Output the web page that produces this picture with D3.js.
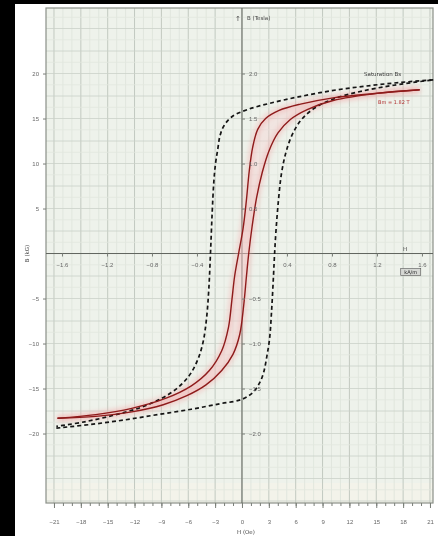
<!DOCTYPE html>
<html>
<head>
<meta charset="utf-8">
<script src="https://cdn.jsdelivr.net/npm/d3@7"></script>
<style>
  html, body { margin: 0; padding: 0; background: #fff; }
  svg { display: block; font-family: "DejaVu Sans", "Liberation Sans", sans-serif; }
  svg text { opacity: 0.99; }
</style>
</head>
<body>
<svg id="chart" width="438" height="536"></svg>
<script>
// B–H hysteresis loops: field strength H in kA/m, flux density B in tesla.

// Major (saturation) loop, dashed
const outerDescH = [1.70, 1.40, 1.10, 0.80, 0.50, 0.25, 0.05, -0.09, -0.16, -0.195, -0.215, -0.235, -0.25, -0.265, -0.28, -0.295, -0.315, -0.345, -0.39, -0.46, -0.56, -0.70, -0.90, -1.15, -1.40, -1.65];
const outerDescB = [1.93, 1.90, 1.86, 1.81, 1.74, 1.67, 1.60, 1.52, 1.42, 1.31, 1.16, 1.00, 0.80, 0.45, 0.00, -0.40, -0.72, -0.98, -1.17, -1.34, -1.48, -1.60, -1.71, -1.80, -1.87, -1.92];
const outerAscH  = [-1.65, -1.35, -1.05, -0.75, -0.45, -0.20, 0.00, 0.10, 0.16, 0.195, 0.22, 0.245, 0.265, 0.28, 0.29, 0.305, 0.325, 0.35, 0.39, 0.45, 0.53, 0.65, 0.82, 1.05, 1.35, 1.70];
const outerAscB  = [-1.94, -1.90, -1.85, -1.79, -1.73, -1.67, -1.62, -1.54, -1.43, -1.31, -1.15, -0.95, -0.60, -0.25, 0.00, 0.30, 0.60, 0.88, 1.12, 1.33, 1.49, 1.62, 1.72, 1.80, 1.87, 1.93];

// Minor loop, solid red
const innerDescH = [1.58, 1.20, 0.81, 0.52, 0.33, 0.21, 0.14, 0.095, 0.065, 0.04, 0.01, -0.03, -0.065, -0.09, -0.12, -0.18, -0.29, -0.45, -0.68, -0.98, -1.30, -1.64];
const innerDescB = [1.82, 1.78, 1.73, 1.66, 1.59, 1.50, 1.38, 1.18, 0.92, 0.60, 0.28, 0.00, -0.25, -0.52, -0.82, -1.08, -1.30, -1.47, -1.61, -1.72, -1.79, -1.83];
const innerAscH  = [-1.64, -1.30, -0.98, -0.70, -0.49, -0.32, -0.18, -0.08, -0.02, 0.015, 0.04, 0.06, 0.09, 0.13, 0.18, 0.24, 0.32, 0.43, 0.58, 0.81, 1.20, 1.58];
const innerAscB  = [-1.83, -1.81, -1.76, -1.68, -1.58, -1.46, -1.30, -1.12, -0.90, -0.58, -0.25, 0.00, 0.30, 0.62, 0.90, 1.14, 1.34, 1.49, 1.60, 1.70, 1.78, 1.82];

// Tick values
const hTicks  = [-1.6, -1.2, -0.8, -0.4, 0.4, 0.8, 1.2, 1.6];          // kA/m, on the H axis
const bTicks  = [-2.0, -1.5, -1.0, -0.5, 0.5, 1.0, 1.5, 2.0];          // T, on the B axis
const oeTicks = [-21, -18, -15, -12, -9, -6, -3, 0, 3, 6, 9, 12, 15, 18, 21]; // Oe, bottom
const kgTicks = [-20, -15, -10, -5, 5, 10, 15, 20];                    // kG, left
const bmLabel = "Bm = 1.82 T";

const OE_PER_KAM = 4 * Math.PI;   // 1 kA/m = 12.566 Oe
const KG_PER_T = 10;

const svg = d3.select("#chart");
const W = 438, H = 536;
const plot = { left: 46, right: 433, top: 8, bottom: 503 };

// Sheet and dark scan edges
svg.append("rect").attr("width", W).attr("height", H).attr("fill", "#fff");
svg.append("rect").attr("x", 0).attr("y", 0).attr("width", 15).attr("height", H).attr("fill", "#000");
svg.append("rect").attr("x", 0).attr("y", 0).attr("width", W).attr("height", 4).attr("fill", "#000");

const x = d3.scaleLinear().domain([-1.742, 1.698]).range([plot.left, plot.right]);
const y = d3.scaleLinear().domain([-2.772, 2.728]).range([plot.bottom, plot.top]);
const xOe = d3.scaleLinear().domain(x.domain().map(v => v * OE_PER_KAM)).range(x.range());
const yKg = d3.scaleLinear().domain(y.domain().map(v => v * KG_PER_T)).range(y.range());

// Plot background
svg.append("rect")
  .attr("x", plot.left).attr("y", plot.top)
  .attr("width", plot.right - plot.left).attr("height", plot.bottom - plot.top)
  .attr("fill", "#eef2eb");
svg.append("rect")
  .attr("x", plot.left).attr("y", y(-2.55))
  .attr("width", plot.right - plot.left).attr("height", plot.bottom - y(-2.55))
  .attr("fill", "#f3f3ea");

// Grid
const grid = svg.append("g");
const oeMinor = d3.range(Math.ceil(xOe.domain()[0]), Math.floor(xOe.domain()[1]) + 1);
grid.selectAll("line.vmin").data(oeMinor).join("line")
  .attr("x1", d => xOe(d)).attr("x2", d => xOe(d))
  .attr("y1", plot.top).attr("y2", plot.bottom)
  .attr("stroke", d => d % 3 === 0 ? "#c2c9c0" : "#dde3da")
  .attr("stroke-width", d => d % 3 === 0 ? 1 : 0.8);
const bMinor = d3.range(-22, 22).map(k => k * 0.125);
grid.selectAll("line.hmin").data(bMinor).join("line")
  .attr("x1", plot.left).attr("x2", plot.right)
  .attr("y1", d => y(d)).attr("y2", d => y(d))
  .attr("stroke", d => Math.abs(Math.round(d * 8)) % 2 === 0 ? "#cad1c8" : "#e2e7df")
  .attr("stroke-width", 0.8);

// Plot border
svg.append("rect")
  .attr("x", plot.left).attr("y", plot.top)
  .attr("width", plot.right - plot.left).attr("height", plot.bottom - plot.top)
  .attr("fill", "none").attr("stroke", "#8a8f88").attr("stroke-width", 1.2);

// Central axes
svg.append("line").attr("x1", x(0)).attr("x2", x(0)).attr("y1", plot.top).attr("y2", plot.bottom)
  .attr("stroke", "#60645e").attr("stroke-width", 1);
svg.append("line").attr("x1", plot.left).attr("x2", plot.right).attr("y1", y(0)).attr("y2", y(0))
  .attr("stroke", "#60645e").attr("stroke-width", 1);

const line = d3.line()
  .x(d => x(d[0])).y(d => y(d[1]))
  .curve(d3.curveCatmullRom.alpha(0.5));

const outerDesc = d3.zip(outerDescH, outerDescB);
const outerAsc = d3.zip(outerAscH, outerAscB);
const innerDesc = d3.zip(innerDescH, innerDescB);
const innerAsc = d3.zip(innerAscH, innerAscB);

// Soft pink tint around the minor loop
const defs = svg.append("defs");
defs.append("filter").attr("id", "soft").attr("x", "-10%").attr("y", "-10%").attr("width", "120%").attr("height", "120%")
  .append("feGaussianBlur").attr("stdDeviation", 2.5);
svg.append("path")
  .attr("d", line(innerDesc.concat(innerAsc)) + "Z")
  .attr("fill", "#f6d2d2").attr("fill-opacity", 0.4).attr("stroke", "none");
const halo = svg.append("g").attr("filter", "url(#soft)");
[innerDesc, innerAsc].forEach(seg => {
  halo.append("path").attr("d", line(seg))
    .attr("fill", "none").attr("stroke", "#f2a9a9").attr("stroke-width", 6).attr("stroke-opacity", 0.45);
});

// Major loop
[outerDesc, outerAsc].forEach(seg => {
  svg.append("path").attr("d", line(seg))
    .attr("fill", "none").attr("stroke", "#151515").attr("stroke-width", 1.7)
    .attr("stroke-dasharray", "4,3");
});

// Minor loop
[innerDesc, innerAsc].forEach(seg => {
  svg.append("path").attr("d", line(seg))
    .attr("fill", "none").attr("stroke", "#8e1b1b").attr("stroke-width", 1.4);
});

// Axis styling helper
function styleAxis(g) {
  g.select(".domain").remove();
  g.selectAll(".tick line").attr("stroke", "#7a7e78");
  g.selectAll(".tick text").attr("fill", "#666").attr("font-size", 6);
}

// Bottom axis in oersted
const oeMinorAxis = svg.append("g").attr("transform", `translate(0,${plot.bottom})`)
  .call(d3.axisBottom(xOe).tickValues(oeMinor).tickSize(3).tickFormat(""));
styleAxis(oeMinorAxis);
const oeAxis = svg.append("g").attr("transform", `translate(0,${plot.bottom})`)
  .call(d3.axisBottom(xOe).tickValues(oeTicks).tickSize(5).tickPadding(12).tickFormat(d3.format("d")));
styleAxis(oeAxis);

// Left axis in kilogauss
const kgAxis = svg.append("g").attr("transform", `translate(${plot.left},0)`)
  .call(d3.axisLeft(yKg).tickValues(kgTicks).tickSize(3).tickPadding(4).tickFormat(d3.format("d")));
styleAxis(kgAxis);

// Inner axes in SI units
const hAxis = svg.append("g").attr("transform", `translate(0,${y(0)})`)
  .call(d3.axisBottom(x).tickValues(hTicks).tickSize(3).tickPadding(6).tickFormat(d3.format(".1f")));
styleAxis(hAxis);
const bAxis = svg.append("g").attr("transform", `translate(${x(0)},0)`)
  .call(d3.axisRight(y).tickValues(bTicks).tickSize(3).tickPadding(4).tickFormat(d3.format(".1f")));
styleAxis(bAxis);

// Axis titles
svg.append("text").attr("x", x(0) - 4).attr("y", 21).attr("text-anchor", "middle")
  .attr("font-size", 7).attr("fill", "#444").text("↑");
svg.append("text").attr("x", x(0) + 5).attr("y", 20)
  .attr("font-size", 5.5).attr("fill", "#444").text("B (Tesla)");
svg.append("text").attr("x", x(0) + 4).attr("y", 534).attr("text-anchor", "middle")
  .attr("font-size", 5.5).attr("fill", "#444").text("H (Oe)");
svg.append("text").attr("transform", `translate(29,${y(0)}) rotate(-90)`).attr("text-anchor", "middle")
  .attr("font-size", 5.5).attr("fill", "#444").text("B (kG)");
svg.append("text").attr("x", x(1.45)).attr("y", y(0) - 3).attr("text-anchor", "middle")
  .attr("font-size", 5.5).attr("fill", "#444").text("H");
const unitBox = svg.append("g").attr("transform", `translate(${x(1.5)},${y(0) + 19})`);
unitBox.append("rect").attr("x", -10).attr("y", -4).attr("width", 20).attr("height", 7)
  .attr("fill", "#d6d8d4").attr("stroke", "#555").attr("stroke-width", 0.6);
unitBox.append("text").attr("y", 1.8).attr("text-anchor", "middle")
  .attr("font-size", 5).attr("fill", "#222").text("kA/m");

// Curve annotations
svg.append("text").attr("x", x(1.25)).attr("y", y(1.97)).attr("text-anchor", "middle")
  .attr("font-size", 5.5).attr("fill", "#333").text("Saturation Bs");
svg.append("text").attr("x", x(1.35)).attr("y", y(1.66)).attr("text-anchor", "middle")
  .attr("font-size", 5).attr("fill", "#b03030").text(bmLabel);
</script>
</body>
</html>
